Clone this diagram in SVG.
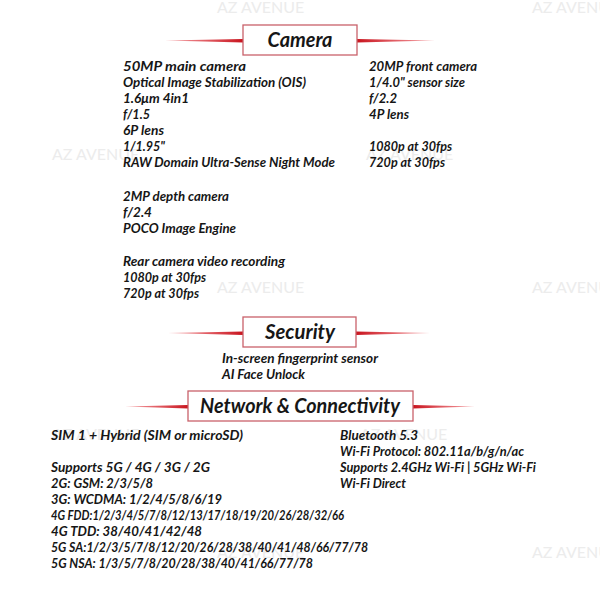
<svg xmlns="http://www.w3.org/2000/svg" width="600" height="600" viewBox="0 0 600 600">
<defs>
<linearGradient id="gl" x1="0" y1="0" x2="1" y2="0"><stop offset="0" stop-color="#e8424a" stop-opacity="0.5"/><stop offset="1" stop-color="#c8141e"/></linearGradient>
<linearGradient id="gr" x1="0" y1="0" x2="1" y2="0"><stop offset="0" stop-color="#c8141e"/><stop offset="1" stop-color="#e8424a" stop-opacity="0.5"/></linearGradient>
</defs>
<style>
.wm{font-family:Lato,"Open Sans",sans-serif;font-size:16px;fill:#ececec}
.t{font-family:Lato,"Liberation Sans",sans-serif;font-weight:bold;font-style:italic;font-size:13px;fill:#161616}
.t text{lengthAdjust:spacingAndGlyphs}
.h{font-family:Lato,"Liberation Sans",sans-serif;font-weight:bold;font-style:italic;font-size:20px;fill:#161616;text-anchor:middle}
.box{fill:#fff;stroke:#c9616a;stroke-width:1.3}
</style>
<g id="watermarks">
<text class="wm" x="-99" y="13">AZ AVENUE</text>
<text class="wm" x="217" y="13">AZ AVENUE</text>
<text class="wm" x="532" y="13">AZ AVENUE</text>
<text class="wm" x="52" y="160">AZ AVENUE</text>
<text class="wm" x="366" y="160">AZ AVENUE</text>
<text class="wm" x="-99" y="293">AZ AVENUE</text>
<text class="wm" x="217" y="293">AZ AVENUE</text>
<text class="wm" x="532" y="293">AZ AVENUE</text>
<text class="wm" x="52" y="440">AZ AVENUE</text>
<text class="wm" x="360" y="440">AZ AVENUE</text>
<text class="wm" x="217" y="558">AZ AVENUE</text>
<text class="wm" x="532" y="558">AZ AVENUE</text>
</g>
<g id="header-camera">
<polygon points="165,40.5 243,39 243,42.5" fill="url(#gl)"/>
<polygon points="357,39 435,40.5 357,42.5" fill="url(#gr)"/>
<rect class="box" x="243" y="25" width="114" height="30"/>
<text class="h" x="300" y="47" textLength="65" lengthAdjust="spacingAndGlyphs">Camera</text>
</g>
<g id="camera-main" class="t">
<text x="123" y="71" textLength="123" lengthAdjust="spacingAndGlyphs">50MP main camera</text>
<text x="123" y="87" textLength="183" lengthAdjust="spacingAndGlyphs">Optical Image Stabilization (OIS)</text>
<text x="123" y="103" textLength="66" lengthAdjust="spacingAndGlyphs">1.6μm 4in1</text>
<text x="123" y="119" textLength="27" lengthAdjust="spacingAndGlyphs">f/1.5</text>
<text x="123" y="135" textLength="41" lengthAdjust="spacingAndGlyphs">6P lens</text>
<text x="123" y="151" textLength="42" lengthAdjust="spacingAndGlyphs">1/1.95"</text>
<text x="123" y="167" textLength="212" lengthAdjust="spacingAndGlyphs">RAW Domain Ultra-Sense Night Mode</text>
<text x="123" y="201" textLength="106" lengthAdjust="spacingAndGlyphs">2MP depth camera</text>
<text x="123" y="217" textLength="29" lengthAdjust="spacingAndGlyphs">f/2.4</text>
<text x="123" y="233" textLength="113" lengthAdjust="spacingAndGlyphs">POCO Image Engine</text>
<text x="123" y="266" textLength="162" lengthAdjust="spacingAndGlyphs">Rear camera video recording</text>
<text x="123" y="282" textLength="83" lengthAdjust="spacingAndGlyphs">1080p at 30fps</text>
<text x="123" y="298" textLength="76" lengthAdjust="spacingAndGlyphs">720p at 30fps</text>
</g>
<g id="camera-front" class="t">
<text x="369" y="71" textLength="108" lengthAdjust="spacingAndGlyphs">20MP front camera</text>
<text x="369" y="87" textLength="96" lengthAdjust="spacingAndGlyphs">1/4.0" sensor size</text>
<text x="369" y="103" textLength="28" lengthAdjust="spacingAndGlyphs">f/2.2</text>
<text x="369" y="119" textLength="40" lengthAdjust="spacingAndGlyphs">4P lens</text>
<text x="369" y="151" textLength="83" lengthAdjust="spacingAndGlyphs">1080p at 30fps</text>
<text x="369" y="167" textLength="76" lengthAdjust="spacingAndGlyphs">720p at 30fps</text>
</g>
<g id="header-security">
<polygon points="168,333 243,331.5 243,335" fill="url(#gl)"/>
<polygon points="356,331.5 430,333 356,335" fill="url(#gr)"/>
<rect class="box" x="243" y="317" width="113" height="30"/>
<text class="h" x="300" y="339" textLength="70" lengthAdjust="spacingAndGlyphs">Security</text>
</g>
<g id="security" class="t">
<text x="222" y="363" textLength="156" lengthAdjust="spacingAndGlyphs">In-screen fingerprint sensor</text>
<text x="222" y="379" textLength="83" lengthAdjust="spacingAndGlyphs">AI Face Unlock</text>
</g>
<g id="header-network">
<polygon points="125,406.5 188,405 188,408.5" fill="url(#gl)"/>
<polygon points="413,405 475,406.5 413,408.5" fill="url(#gr)"/>
<rect class="box" x="188" y="391" width="225" height="30"/>
<text class="h" x="300" y="413" textLength="200" lengthAdjust="spacingAndGlyphs">Network &amp; Connectivity</text>
</g>
<g id="network-left" class="t">
<text x="51" y="440" textLength="192" lengthAdjust="spacingAndGlyphs">SIM 1 + Hybrid (SIM or microSD)</text>
<text x="51" y="472" textLength="159" lengthAdjust="spacingAndGlyphs">Supports 5G / 4G / 3G / 2G</text>
<text x="51" y="488" textLength="102" lengthAdjust="spacingAndGlyphs">2G: GSM: 2/3/5/8</text>
<text x="51" y="504" textLength="171" lengthAdjust="spacingAndGlyphs">3G: WCDMA: 1/2/4/5/8/6/19</text>
<text x="51" y="520" textLength="293" lengthAdjust="spacingAndGlyphs">4G FDD:1/2/3/4/5/7/8/12/13/17/18/19/20/26/28/32/66</text>
<text x="51" y="536" textLength="151" lengthAdjust="spacingAndGlyphs">4G TDD: 38/40/41/42/48</text>
<text x="51" y="552" textLength="317" lengthAdjust="spacingAndGlyphs">5G SA:1/2/3/5/7/8/12/20/26/28/38/40/41/48/66/77/78</text>
<text x="51" y="568" textLength="262" lengthAdjust="spacingAndGlyphs">5G NSA: 1/3/5/7/8/20/28/38/40/41/66/77/78</text>
</g>
<g id="network-right" class="t">
<text x="340" y="440" textLength="78" lengthAdjust="spacingAndGlyphs">Bluetooth 5.3</text>
<text x="340" y="456" textLength="184" lengthAdjust="spacingAndGlyphs">Wi-Fi Protocol: 802.11a/b/g/n/ac</text>
<text x="340" y="472" textLength="196" lengthAdjust="spacingAndGlyphs">Supports 2.4GHz Wi-Fi | 5GHz Wi-Fi</text>
<text x="340" y="488" textLength="66" lengthAdjust="spacingAndGlyphs">Wi-Fi Direct</text>
</g>
</svg>
